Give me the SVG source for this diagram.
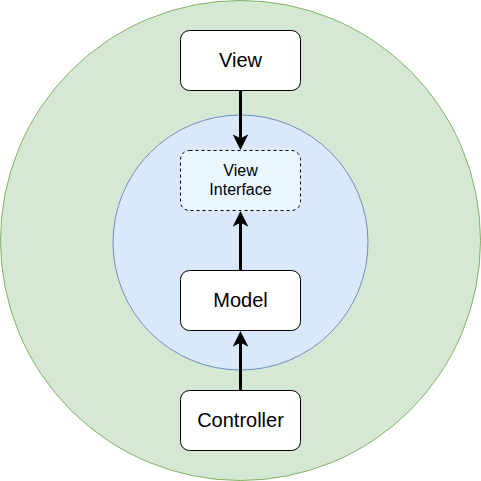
<svg xmlns="http://www.w3.org/2000/svg" width="481" height="481" viewBox="0 0 481 481">
  <style>
    .box { fill: #ffffff; stroke: #000000; stroke-width: 1; }
    .iface { fill: #ebf7ff; stroke: #000000; stroke-width: 1; stroke-dasharray: 3 3; }
    .lbl { font-family: "Liberation Sans", Arial, sans-serif; font-size: 20px; fill: #000000; text-anchor: middle; }
    .small { font-size: 16px; }
    .edge { stroke: #000000; stroke-width: 3; fill: none; }
  </style>
  <defs>
    <!-- block arrowhead; line stops 4px short and the tip reaches the target border -->
    <marker id="arrow" viewBox="0 0 10 10" refX="7.44" refY="5" markerWidth="5.2" markerHeight="5.2" orient="auto" markerUnits="strokeWidth">
      <path d="M0,0 L10,5 L0,10 L2.5,5 Z" fill="#000000"/>
    </marker>
  </defs>

  <!-- layers -->
  <g id="outer-layer">
    <circle cx="240.5" cy="240.5" r="240" fill="#d5e8d4" stroke="#82b366" stroke-width="1"/>
  </g>
  <g id="inner-layer">
    <circle cx="240.5" cy="242.5" r="127.5" fill="#dae8fc" stroke="#6c8ebf" stroke-width="1"/>
  </g>

  <!-- connectors -->
  <g id="connectors">
    <line class="edge" x1="240.5" y1="90" x2="240.5" y2="146" marker-end="url(#arrow)"/>
    <line class="edge" x1="240.5" y1="270" x2="240.5" y2="215" marker-end="url(#arrow)"/>
    <line class="edge" x1="240.5" y1="390" x2="240.5" y2="335" marker-end="url(#arrow)"/>
  </g>

  <g id="view">
    <rect class="box" x="180.5" y="30.5" width="120" height="60" rx="9"/>
    <text class="lbl" x="240.5" y="67">View</text>
  </g>
  <g id="view-interface">
    <rect class="iface" x="180.5" y="150.5" width="120" height="60" rx="9"/>
    <text class="lbl small" x="240.5" y="176">View</text>
    <text class="lbl small" x="240.5" y="195">Interface</text>
  </g>
  <g id="model">
    <rect class="box" x="180.5" y="270.5" width="120" height="60" rx="9"/>
    <text class="lbl" x="240.5" y="307">Model</text>
  </g>
  <g id="controller">
    <rect class="box" x="180.5" y="390.5" width="120" height="60" rx="9"/>
    <text class="lbl" x="240.5" y="427">Controller</text>
  </g>
</svg>
